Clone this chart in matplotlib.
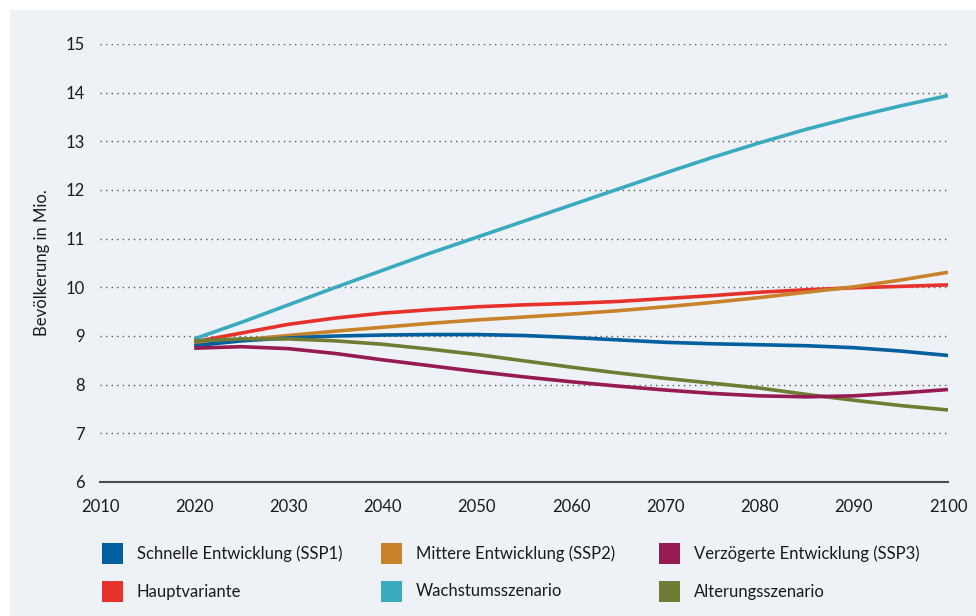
import numpy as np
import matplotlib
matplotlib.use('Agg')
import matplotlib.pyplot as plt
from matplotlib.patches import Rectangle

plt.rcParams['font.family'] = ['Lato', 'DejaVu Sans']

years = [2020, 2025, 2030, 2035, 2040, 2045, 2050, 2055, 2060,
         2065, 2070, 2075, 2080, 2085, 2090, 2095, 2100]
ssp1 = [8.80, 8.90, 8.96, 9.00, 9.02, 9.03, 9.03, 9.01, 8.97,
        8.92, 8.87, 8.84, 8.82, 8.80, 8.76, 8.69, 8.60]
ssp2 = [8.82, 8.92, 9.01, 9.10, 9.18, 9.26, 9.33, 9.39, 9.45,
        9.52, 9.60, 9.69, 9.79, 9.90, 10.01, 10.15, 10.31]
ssp3 = [8.75, 8.78, 8.74, 8.64, 8.51, 8.39, 8.27, 8.16, 8.06,
        7.97, 7.89, 7.82, 7.77, 7.75, 7.77, 7.83, 7.90]
haupt = [8.88, 9.06, 9.24, 9.37, 9.47, 9.54, 9.60, 9.64, 9.67,
         9.71, 9.77, 9.83, 9.90, 9.95, 9.99, 10.02, 10.05]
wachstum = [8.94, 9.28, 9.64, 10.00, 10.35, 10.70, 11.03, 11.36, 11.69,
            12.02, 12.35, 12.67, 12.97, 13.25, 13.50, 13.73, 13.94]
alterung = [8.90, 8.94, 8.94, 8.90, 8.83, 8.73, 8.62, 8.49, 8.36,
            8.24, 8.13, 8.03, 7.93, 7.80, 7.68, 7.57, 7.48]

labels = ['Schnelle Entwicklung (SSP1)', 'Mittere Entwicklung (SSP2)',
          'Verzögerte Entwicklung (SSP3)', 'Hauptvariante',
          'Wachstumsszenario', 'Alterungsszenario']
series = [ssp1, ssp2, ssp3, haupt, wachstum, alterung]
colors = ['#00609f', '#c8822a', '#951b52', '#e6322a', '#3aabbf', '#6f7c34']

# drawing order (back to front)
draw_order = [4, 3, 1, 0, 5, 2]

bg = '#eef2f6'
fig = plt.figure(figsize=(9.76, 6.16), dpi=100)
fig.patch.set_facecolor('white')
fig.add_artist(Rectangle((10/976, 0), 1, 1 - 10/616, transform=fig.transFigure,
                         facecolor=bg, edgecolor='none', zorder=-10))

ax = fig.add_axes([100/976, 1 - 482/616, 848/976, 438/616])
ax.set_facecolor('none')

for i in draw_order:
    ax.plot(years, series[i], color=colors[i], lw=2.6, solid_capstyle='butt',
            solid_joinstyle='round', zorder=3)

ax.set_xlim(2010, 2100)
ax.set_ylim(6, 15)
ax.set_xticks(np.arange(2010, 2101, 10))
ax.set_yticks(np.arange(6, 16, 1))
for yv in range(7, 16):
    ax.axhline(yv, color='#555555', lw=1.0, ls=(0, (1, 3)), zorder=1)

for sp in ['top', 'right', 'left']:
    ax.spines[sp].set_visible(False)
ax.spines['bottom'].set_color('#4d4d4d')
ax.spines['bottom'].set_linewidth(1.5)
ax.spines['bottom'].set_zorder(2)
ax.tick_params(axis='both', length=0, labelsize=12, colors='#1a1a1a')
ax.tick_params(axis='x', pad=12)
ax.tick_params(axis='y', pad=11)
ax.set_ylabel('Bevölkerung in Mio.', fontsize=12, color='#1a1a1a', labelpad=11)

# legend: 3 columns, 2 rows
col_x = [102, 381, 659]
row_y = [553.5, 591.5]
for k, lab in enumerate(labels):
    r, c = divmod(k, 3)
    x0 = col_x[c]
    yc = row_y[r]
    fig.add_artist(Rectangle((x0/976, 1 - (yc + 10.5)/616), 21/976, 21/616,
                             transform=fig.transFigure, facecolor=colors[k],
                             edgecolor='none'))
    fig.text((x0 + 35)/976, 1 - yc/616, lab, fontsize=12, color='#1a1a1a',
             va='center', ha='left')

fig.savefig('out.png', dpi=100, facecolor=fig.get_facecolor())
